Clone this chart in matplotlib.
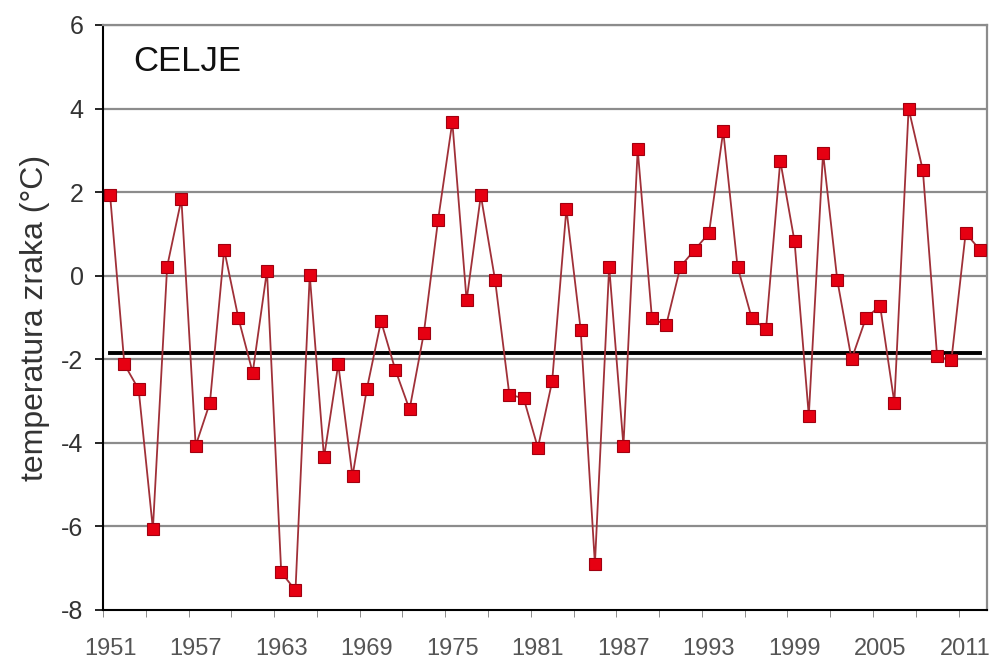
import numpy as np
import matplotlib.pyplot as plt

plt.rcParams['font.family'] = ['Liberation Sans', 'DejaVu Sans']

# podatki
years = list(range(1951, 2013))
temp = [1.92, -2.12, -2.72, -6.06, 0.22, 1.83, -4.07, -3.04, 0.62, -1.02,
        -2.32, 0.12, -7.10, -7.53, 0.02, -4.35, -2.12, -4.80, -2.72, -1.09,
        -2.25, -3.20, -1.38, 1.33, 3.68, -0.59, 1.92, -0.11, -2.85, -2.93,
        -4.12, -2.53, 1.60, -1.29, -6.90, 0.22, -4.07, 3.02, -1.02, -1.18,
        0.22, 0.62, 1.02, 3.46, 0.22, -1.02, -1.28, 2.75, 0.82, -3.35,
        2.94, -0.11, -2.00, -1.02, -0.72, -3.04, 4.00, 2.52, -1.93, -2.02,
        1.02, 0.62]
mean_line = -1.85
label_years = list(range(1951, 2012, 6))
y_ticks = [-8, -6, -4, -2, 0, 2, 4, 6]

fig = plt.figure(figsize=(9.97, 6.66), dpi=100)
ax = fig.add_axes([0.1033, 0.0841, 0.8867, 0.8784])

# mreza
for v in y_ticks[1:]:
    ax.axhline(v, color="#8c8c8c", lw=1.6, zorder=1)

ax.plot([years[0], years[-1]], [mean_line, mean_line], color="black", lw=2.8, zorder=2)
ax.plot(years, temp, color="#a03038", lw=1.3, marker="s", markersize=9,
        markerfacecolor="#e60012", markeredgecolor="#a00010", markeredgewidth=0.8, zorder=3)

ax.set_xlim(1950.5, 2012.5)
ax.set_ylim(-8, 6)
ax.set_yticks(y_ticks)
ax.set_yticklabels([str(v) for v in y_ticks], fontsize=18, color="#333333")
ax.set_xticks(label_years)
ax.set_xticklabels([str(y) for y in label_years], fontsize=17, color="#555555")
ax.set_xticks(np.arange(1950.5, 2013, 3), minor=True)
ax.tick_params(axis="x", which="major", length=0, pad=20)
ax.tick_params(axis="x", which="minor", length=5, color="#777777")
ax.tick_params(axis="y", length=6, width=1.2, pad=8)

ax.set_ylabel("temperatura zraka (°C)", fontsize=23, color="#333333", labelpad=8)

for s in ["left", "bottom"]:
    ax.spines[s].set_color("black")
    ax.spines[s].set_linewidth(1.5)
for s in ["top", "right"]:
    ax.spines[s].set_color("#8c8c8c")
    ax.spines[s].set_linewidth(1.6)

ax.text(0.034, 0.938, "CELJE", transform=ax.transAxes, fontsize=25,
        va="center", ha="left", color="#111111",
        bbox=dict(facecolor="white", edgecolor="none", pad=2))

plt.savefig("out.png")
